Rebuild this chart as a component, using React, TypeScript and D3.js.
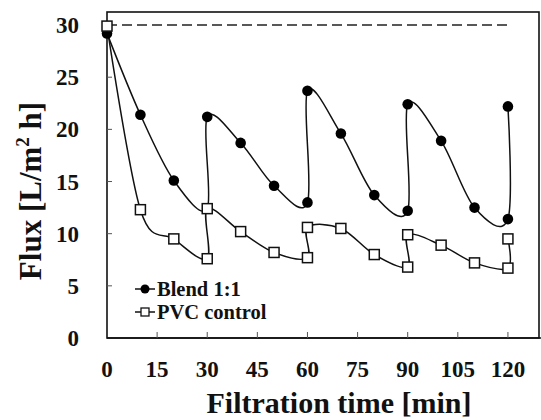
import React, { useEffect, useRef } from "react";
import * as d3 from "d3";

const timeBlend = [0, 10, 20, 30, 30, 40, 50, 60, 60, 70, 80, 90, 90, 100, 110, 120, 120];
const fluxBlend = [29.2, 21.4, 15.1, 12.4, 21.2, 18.7, 14.6, 13.0, 23.7, 19.6, 13.7, 12.2, 22.4, 18.9, 12.5, 11.4, 22.2];
const timePVC = [0, 10, 20, 30, 30, 40, 50, 60, 60, 70, 80, 90, 90, 100, 110, 120, 120];
const fluxPVC = [29.9, 12.3, 9.5, 7.6, 12.4, 10.2, 8.2, 7.7, 10.6, 10.5, 8.0, 6.8, 9.9, 8.9, 7.2, 6.7, 9.5];
const xTicks = [0, 15, 30, 45, 60, 75, 90, 105, 120];
const yTicks = [0, 5, 10, 15, 20, 25, 30];
const initialFlux = 30;
const seriesNames = ["Blend 1:1", "PVC control"];

const W = 541;
const H = 420;
const FONT = "'Liberation Serif', 'Times New Roman', serif";

export default function App() {
  const ref = useRef<SVGSVGElement>(null);

  useEffect(() => {
    const svg = d3.select(ref.current);
    svg.selectAll("*").remove();

    const left = 107, right = 539, top = 12, bottom = 338;
    const x = d3.scaleLinear().domain([0, 129.3]).range([left, right]);
    const y = d3.scaleLinear().domain([0, 31.25]).range([bottom, top]);
    const ink = "#111";

    // frame
    svg.append("rect")
      .attr("x", left).attr("y", top)
      .attr("width", right - left).attr("height", bottom - top)
      .attr("fill", "none").attr("stroke", ink).attr("stroke-width", 1.6);
    svg.append("line")
      .attr("x1", left).attr("x2", W).attr("y1", bottom).attr("y2", bottom)
      .attr("stroke", ink).attr("stroke-width", 1.6);

    // y ticks (inward)
    const gy = svg.append("g");
    yTicks.forEach((t) => {
      if (t > 0) {
        gy.append("line").attr("x1", left).attr("x2", left + 5)
          .attr("y1", y(t)).attr("y2", y(t)).attr("stroke", "#555").attr("stroke-width", 1);
      }
      gy.append("text").attr("x", 79).attr("y", y(t)).attr("dy", "0.35em")
        .attr("text-anchor", "end").attr("font-family", FONT).attr("font-weight", "bold")
        .attr("font-size", 23).attr("fill", ink).text(String(t));
    });

    // x ticks (inward)
    const gx = svg.append("g");
    xTicks.forEach((t) => {
      if (t > 0) {
        gx.append("line").attr("x1", x(t)).attr("x2", x(t))
          .attr("y1", bottom).attr("y2", bottom - 6).attr("stroke", "#555").attr("stroke-width", 1);
      }
      gx.append("text").attr("x", x(t)).attr("y", 377)
        .attr("text-anchor", "middle").attr("font-family", FONT).attr("font-weight", "bold")
        .attr("font-size", 23).attr("fill", ink).text(String(t));
    });

    // dashed initial flux line
    svg.append("line")
      .attr("x1", x(0)).attr("x2", x(121)).attr("y1", y(initialFlux)).attr("y2", y(initialFlux))
      .attr("stroke", "#222").attr("stroke-width", 1.6).attr("stroke-dasharray", "10,5");

    const curve = d3.curveCardinal.tension(0);
    const blend = timeBlend.map((t, i) => [t, fluxBlend[i]] as [number, number]);
    const pvc = timePVC.map((t, i) => [t, fluxPVC[i]] as [number, number]);
    const line = d3.line<[number, number]>().x((d) => x(d[0])).y((d) => y(d[1])).curve(curve);

    svg.append("path").attr("d", line(pvc) || "").attr("fill", "none")
      .attr("stroke", ink).attr("stroke-width", 1.5);
    svg.append("path").attr("d", line(blend) || "").attr("fill", "none")
      .attr("stroke", ink).attr("stroke-width", 1.5);

    svg.append("g").selectAll("circle").data(blend).join("circle")
      .attr("cx", (d) => x(d[0])).attr("cy", (d) => y(d[1])).attr("r", 5.3).attr("fill", "#000");
    svg.append("g").selectAll("rect").data(pvc).join("rect")
      .attr("x", (d) => x(d[0]) - 5).attr("y", (d) => y(d[1]) - 5)
      .attr("width", 10).attr("height", 10)
      .attr("fill", "#fff").attr("stroke", ink).attr("stroke-width", 1.5);

    // legend
    const lg = svg.append("g");
    const ly = [289, 312];
    lg.append("line").attr("x1", 135).attr("x2", 155).attr("y1", ly[0]).attr("y2", ly[0])
      .attr("stroke", ink).attr("stroke-width", 1.5);
    lg.append("circle").attr("cx", 145).attr("cy", ly[0]).attr("r", 4.5).attr("fill", "#000");
    lg.append("line").attr("x1", 135).attr("x2", 155).attr("y1", ly[1]).attr("y2", ly[1])
      .attr("stroke", ink).attr("stroke-width", 1.5);
    lg.append("rect").attr("x", 141).attr("y", ly[1] - 4).attr("width", 8).attr("height", 8)
      .attr("fill", "#fff").attr("stroke", ink).attr("stroke-width", 1.3);
    seriesNames.forEach((n, i) => {
      lg.append("text").attr("x", 157).attr("y", ly[i] + 7)
        .attr("font-family", FONT).attr("font-weight", "bold").attr("font-size", 20.5)
        .attr("fill", ink).text(n);
    });

    // axis titles
    svg.append("text").attr("x", 339).attr("y", 413).attr("text-anchor", "middle")
      .attr("font-family", FONT).attr("font-weight", "bold").attr("font-size", 30)
      .attr("fill", ink).text("Filtration time [min]");
    const yt = svg.append("text")
      .attr("transform", `translate(41,191) rotate(-90)`).attr("text-anchor", "middle")
      .attr("font-family", FONT).attr("font-weight", "bold").attr("font-size", 31)
      .attr("fill", ink);
    yt.append("tspan").text("Flux [L/m");
    yt.append("tspan").attr("font-size", 19).attr("dy", -12).text("2");
    yt.append("tspan").attr("dy", 12).text(" h]");
  }, []);

  return (
    <svg ref={ref} width={W} height={H}
      style={{ position: "absolute", left: 0, top: 0, background: "#fff" }} />
  );
}
